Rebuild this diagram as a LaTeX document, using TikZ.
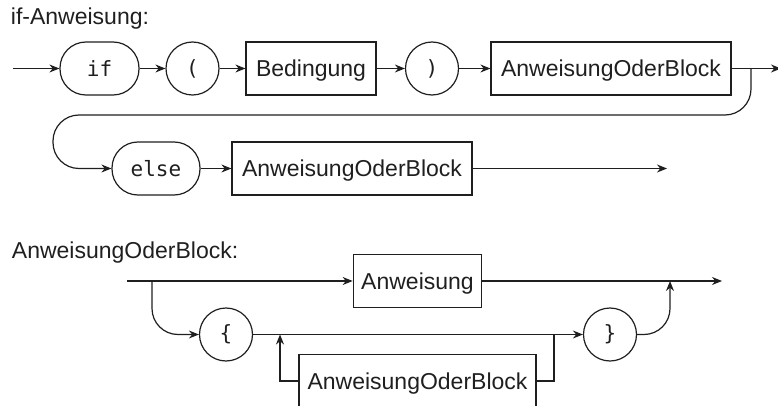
\documentclass[tikz,border=0pt]{standalone}
\usepackage{fontspec}
\setmainfont{Liberation Sans}
\setmonofont{DejaVu Sans Mono}
\usetikzlibrary{positioning,arrows.meta}

\begin{document}
\begin{tikzpicture}[
            x=1pt, y=-1pt,
            line width=1.2pt, color=black!88,
            >={Stealth[length=10pt,width=8pt]},
            font=\fontsize{23pt}{27pt}\selectfont,
            term/.style={draw, rounded corners=26pt, minimum height=53pt, font=\ttfamily\fontsize{21pt}{25pt}\selectfont},
            token/.style={draw, circle, minimum size=53pt, inner sep=0pt, font=\ttfamily\fontsize{21pt}{25pt}\selectfont},
            nonterm/.style={draw, rectangle, minimum height=53pt, text height=16.5pt, text depth=0pt, inner xsep=8pt}
        ]
            \useasboundingbox (0,0) rectangle (778,406);

            % if-Anweisung
            \node[anchor=base west] (title1) at (7,25) {if-Anweisung:};
            \node[term, minimum width=79pt] (if) at (99.5,68.5) {if};
            \node[token] (lpar) at (192.5,68.5) {(};
            \node[nonterm, minimum width=130pt] (cond) at (311,68.5) {Bedingung};
            \node[token] (rpar) at (432,68.5) {)};
            \node[nonterm, minimum width=240pt] (then) at (611,68.5) {AnweisungOderBlock};
            \node[term, minimum width=88pt] (else) at (156,168.5) {else};
            \node[nonterm, minimum width=240pt] (alt) at (352,168.5) {AnweisungOderBlock};

            \coordinate (in1) at (13,68.5);
            \coordinate (out1) at (781,68.5);
            \coordinate (split1) at (751,68.5);
            \coordinate (loopl) at (53,115);
            \coordinate (out2) at (667,168.5);

            % Main line
            \draw[->] (in1) -- (if);
            \foreach \a/\b in {if/lpar, lpar/cond, cond/rpar, rpar/then}
                \draw[->] (\a) -- (\b);
            \draw[->] (then) -- (out1);

            % else branch
            \draw[->, rounded corners=26pt] (split1) |- (loopl) |- (else);
            \draw[->] (else) -- (alt);
            \draw[->] (alt) -- (out2);

            % AnweisungOderBlock
            \node[anchor=base west] (title2) at (8,258) {AnweisungOderBlock:};
            \node[nonterm, minimum width=127pt] (stmt) at (417.5,281) {Anweisung};
            \node[token] (lbrace) at (226,334.5) {\{};
            \node[token] (rbrace) at (610,334.5) {\}};
            \node[nonterm, minimum width=237pt] (rep) at (417.5,381) {AnweisungOderBlock};

            \coordinate (in2) at (127,281);
            \coordinate (out3) at (722,281);
            \coordinate (split2) at (152,281);
            \coordinate (join2) at (670,281);
            \coordinate (loopin) at (554,334.5);
            \coordinate (loopout) at (280,334.5);

            % Connections
            \draw[->] (in2) -- (stmt);
            \draw[->] (stmt) -- (out3);
            \draw[->, rounded corners=26pt] (split2) |- (lbrace);
            \draw[->] (lbrace) -- (rbrace);
            \draw[->, rounded corners=26pt] (rbrace) -| (join2);

            % Repetition
            \draw (rep) -| (loopin);
            \draw[->] (rep) -| (loopout);
        \end{tikzpicture}
\end{document}
